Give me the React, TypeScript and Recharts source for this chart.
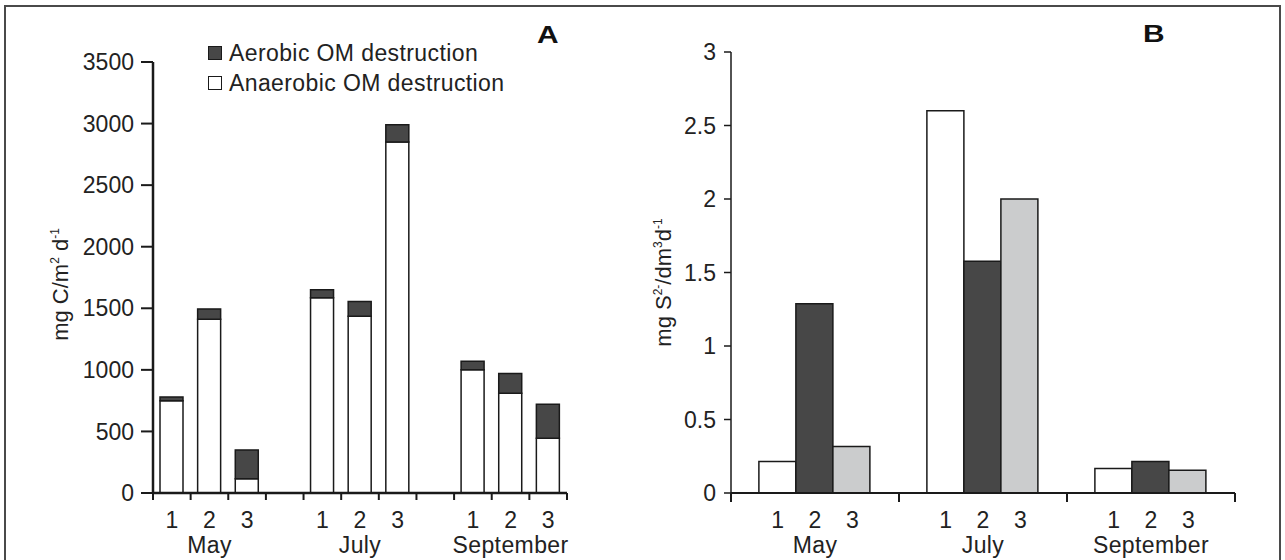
import React from 'react';
import { BarChart, Bar, XAxis, YAxis, Legend } from 'recharts';

const FONT = '"Liberation Sans", Arial, Helvetica, sans-serif';
const INK = '#1a1a1a';
const TEXT = '#222222';
const DARK = '#474747';
const LIGHT = '#cbcccd';

const months = ['May', 'July', 'September'];
const stations = ['1', '2', '3'];

// panel A: mg C/m2 d-1, stations 1-3 of each month in order
const anaerobicA = [750, 1410, 115, 1585, 1435, 2850, 1000, 810, 445];
const aerobicA = [30, 85, 235, 65, 120, 140, 70, 160, 275];
const ticksA = [0, 500, 1000, 1500, 2000, 2500, 3000, 3500];

// panel B: mg S2-/dm3 d-1, one value per month for each station
const station1B = [0.215, 2.6, 0.167];
const station2B = [1.288, 1.576, 0.215];
const station3B = [0.317, 2.0, 0.154];
const ticksB = [0, 0.5, 1, 1.5, 2, 2.5, 3];

// an empty slot between months keeps the gaps of the original
const dataA: any[] = [];
months.forEach((m, mi) => {
  if (mi > 0) dataA.push({ key: 'gap' + mi, month: '', station: '' });
  stations.forEach((s, si) => {
    const i = mi * 3 + si;
    dataA.push({ key: m + ' ' + s, month: m, station: s, anaerobic: anaerobicA[i], aerobic: aerobicA[i] });
  });
});

const dataB = months.map((m, i) => ({
  month: m,
  s1: station1B[i],
  s2: station2B[i],
  s3: station3B[i],
}));

// plot sizes
const A_W = 640, A_LEFT = 153, A_RIGHT = 73;
const bandA = (A_W - A_LEFT - A_RIGHT) / dataA.length;
const B_W = 645, B_LEFT = 91, B_RIGHT = 50;
const bandB = (B_W - B_LEFT - B_RIGHT) / dataB.length;
const GAP_B = 0.166;
const barB = (bandB * (1 - 2 * GAP_B)) / 3;

const textProps = { fontFamily: FONT, fontSize: 23, fill: TEXT };

const TickA = (props: any) => {
  const { x, y, index } = props;
  const row = dataA[index];
  if (!row) return null;
  const last = index === dataA.length - 1;
  return (
    <g>
      <line x1={x - bandA / 2} x2={x - bandA / 2} y1={y} y2={y + 7} stroke={INK} strokeWidth={2} />
      {last && <line x1={x + bandA / 2} x2={x + bandA / 2} y1={y} y2={y + 7} stroke={INK} strokeWidth={2} />}
      <text x={x} y={y + 35} textAnchor="middle" {...textProps}>{row.station}</text>
      {row.station === '2' && (
        <text x={x} y={y + 60} textAnchor="middle" {...textProps} letterSpacing={0.4}>{row.month}</text>
      )}
    </g>
  );
};

const TickB = (props: any) => {
  const { x, y, index } = props;
  const row = dataB[index];
  if (!row) return null;
  const last = index === dataB.length - 1;
  return (
    <g>
      <line x1={x - bandB / 2} x2={x - bandB / 2} y1={y} y2={y + 9} stroke={INK} strokeWidth={2} />
      {last && <line x1={x + bandB / 2} x2={x + bandB / 2} y1={y} y2={y + 9} stroke={INK} strokeWidth={2} />}
      {stations.map((s, k) => (
        <text key={s} x={x + (k - 1) * barB} y={y + 35} textAnchor="middle" {...textProps}>{s}</text>
      ))}
      <text x={x} y={y + 60} textAnchor="middle" {...textProps} letterSpacing={0.4}>{row.month}</text>
    </g>
  );
};

const YLabelA = (props: any) => {
  const vb = props.viewBox || { x: 0, y: 62, width: A_LEFT, height: 431 };
  const cx = vb.x + 68;
  const cy = vb.y + vb.height / 2 + 7;
  return (
    <text transform={`rotate(-90 ${cx} ${cy})`} x={cx} y={cy} textAnchor="middle" {...textProps} fontSize={22}>
      mg C/m<tspan dy={-9} fontSize={12}>2</tspan>
      <tspan dy={9}> d</tspan>
      <tspan dy={-9} fontSize={12}>-1</tspan>
    </text>
  );
};

const YLabelB = (props: any) => {
  const vb = props.viewBox || { x: 0, y: 52, width: B_LEFT, height: 441 };
  const cx = vb.x + 31;
  const cy = vb.y + vb.height / 2 + 10;
  return (
    <text transform={`rotate(-90 ${cx} ${cy})`} x={cx} y={cy} textAnchor="middle" {...textProps} fontSize={22}>
      mg S<tspan dy={-9} fontSize={12}>2-</tspan>
      <tspan dy={9}>/dm</tspan>
      <tspan dy={-9} fontSize={12}>3</tspan>
      <tspan dy={9}>d</tspan>
      <tspan dy={-9} fontSize={12}>-1</tspan>
    </text>
  );
};

const LegendA = (props: any) => {
  const items = props.payload || [];
  return (
    <div style={{ fontFamily: FONT, fontSize: 23, color: TEXT, letterSpacing: 0.4 }}>
      {items.map((it: any) => (
        <div key={it.value} style={{ display: 'flex', alignItems: 'center', height: 30, whiteSpace: 'nowrap' }}>
          <span
            style={{
              display: 'inline-block',
              width: 12,
              height: 12,
              background: it.color,
              border: '1.5px solid ' + INK,
              marginRight: 7,
            }}
          />
          {it.value}
        </div>
      ))}
    </div>
  );
};

const panelLetter = (left: number, top: number): React.CSSProperties => ({
  position: 'absolute',
  left,
  top,
  fontFamily: FONT,
  fontWeight: 'bold',
  fontSize: 23,
  lineHeight: '24px',
  color: '#111',
  transform: 'scaleX(1.3)',
  transformOrigin: 'left top',
});

export default function App() {
  return (
    <div style={{ position: 'absolute', left: 0, top: 0, width: 1285, height: 560, overflow: 'hidden', background: '#fff' }}>
      <div style={{ position: 'absolute', left: 4, top: 5, width: 1273, height: 600, border: '2px solid #4a4a4a' }} />

      <div style={{ position: 'absolute', left: 0, top: 0 }}>
        <BarChart width={A_W} height={560} data={dataA} margin={{ top: 62, right: A_RIGHT, bottom: 0, left: 0 }} barSize={23}>
          <XAxis
            dataKey="key"
            height={67}
            interval={0}
            tickSize={0}
            tickMargin={0}
            tickLine={false}
            axisLine={{ stroke: INK, strokeWidth: 2.5 }}
            tick={TickA}
          />
          <YAxis
            width={A_LEFT}
            domain={[0, 3500]}
            ticks={ticksA}
            interval={0}
            tickSize={12}
            tickMargin={7}
            tick={{ ...textProps }}
            tickLine={{ stroke: INK, strokeWidth: 2 }}
            axisLine={{ stroke: INK, strokeWidth: 2.5 }}
            label={YLabelA}
          />
          <Legend
            layout="vertical"
            align="center"
            verticalAlign="middle"
            content={LegendA}
            wrapperStyle={{ left: 208, top: 38, width: 320, height: 60 }}
          />
          <Bar dataKey="anaerobic" name="Anaerobic OM destruction" stackId="a" fill="#ffffff" stroke={INK} strokeWidth={1.5} isAnimationActive={false} />
          <Bar dataKey="aerobic" name="Aerobic OM destruction" stackId="a" fill={DARK} stroke={INK} strokeWidth={1.5} isAnimationActive={false} />
        </BarChart>
      </div>

      <div style={{ position: 'absolute', left: 640, top: 0 }}>
        <BarChart
          width={B_W}
          height={560}
          data={dataB}
          margin={{ top: 52, right: B_RIGHT, bottom: 0, left: 0 }}
          barGap={0}
          barCategoryGap={`${GAP_B * 100}%`}
        >
          <XAxis
            dataKey="month"
            height={67}
            interval={0}
            tickSize={0}
            tickMargin={0}
            tickLine={false}
            axisLine={{ stroke: INK, strokeWidth: 2 }}
            tick={TickB}
          />
          <YAxis
            width={B_LEFT}
            domain={[0, 3]}
            ticks={ticksB}
            interval={0}
            tickSize={7}
            tickMargin={8}
            tick={{ ...textProps }}
            tickLine={{ stroke: INK, strokeWidth: 1.5 }}
            axisLine={{ stroke: INK, strokeWidth: 1.5 }}
            label={YLabelB}
          />
          <Bar dataKey="s1" name="1" fill="#ffffff" stroke={INK} strokeWidth={1.5} isAnimationActive={false} />
          <Bar dataKey="s2" name="2" fill={DARK} stroke={INK} strokeWidth={1.5} isAnimationActive={false} />
          <Bar dataKey="s3" name="3" fill={LIGHT} stroke={INK} strokeWidth={1.5} isAnimationActive={false} />
        </BarChart>
      </div>

      <div style={panelLetter(537, 23)}>A</div>
      <div style={panelLetter(1143, 22)}>B</div>
    </div>
  );
}
